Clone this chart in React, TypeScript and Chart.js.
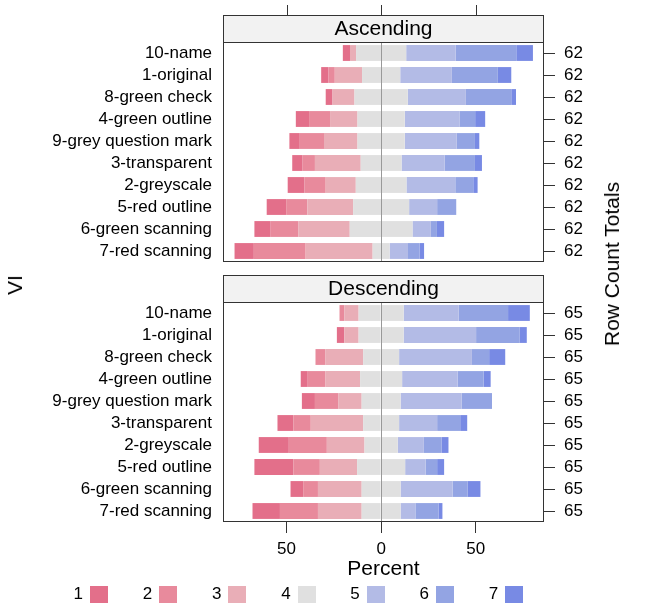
import React, { useEffect, useRef } from 'react';
import { Chart, registerables } from 'chart.js';

Chart.register(...registerables);

const FONT = "'Liberation Sans', Arial, Helvetica, sans-serif";

const rowLabels = [
  '10-name',
  '1-original',
  '8-green check',
  '4-green outline',
  '9-grey question mark',
  '3-transparent',
  '2-greyscale',
  '5-red outline',
  '6-green scanning',
  '7-red scanning',
];
const levelNames = ['1', '2', '3', '4', '5', '6', '7'];
const levelColors = ['#E36F8A', '#E88A9C', '#E9AEB7', '#E0E0E0', '#B3BBE6', '#93A4E3', '#788AE4'];
const xTickValues = [-50, 0, 50];
const xMin = -83.6;
const xMax = 86.1;

const ascTotals = [62, 62, 62, 62, 62, 62, 62, 62, 62, 62];
const descTotals = [65, 65, 65, 65, 65, 65, 65, 65, 65, 65];

// Ascending panel, percent per response level
const ascL1 = [3.8, 3.9, 3.6, 7.0, 5.5, 5.5, 8.9, 10.3, 8.6, 10.2];
const ascL2 = [0, 3.3, 0, 11.1, 12.8, 6.5, 11.2, 11.2, 14.7, 27.4];
const ascL3 = [3.2, 14.4, 11.6, 14.5, 17.7, 24.2, 15.9, 24.2, 27.1, 35.4];
const ascL4 = [26.5, 20.2, 28.2, 25.0, 25.0, 21.6, 26.8, 29.6, 33.2, 9.0];
const ascL5 = [26.1, 27.3, 30.7, 29.1, 27.5, 22.8, 25.8, 14.8, 9.7, 9.7];
const ascL6 = [32.1, 24.3, 24.0, 8.1, 9.6, 16.0, 9.5, 10.1, 3.2, 6.2];
const ascL7 = [8.8, 7.1, 2.5, 5.3, 2.3, 3.7, 2.3, 0, 3.8, 2.3];

// Descending panel, percent per response level
const descL1 = [0, 3.9, 0, 3.7, 6.9, 8.4, 15.9, 20.6, 6.7, 14.5];
const descL2 = [2.5, 0, 5.3, 9.4, 12.3, 9.2, 20.1, 14.0, 7.8, 20.1];
const descL3 = [7.6, 7.6, 19.9, 18.3, 12.4, 27.7, 19.9, 19.7, 23.1, 23.1];
const descL4 = [23.8, 23.8, 19.0, 22.2, 20.6, 19.0, 17.6, 25.4, 20.6, 20.6];
const descL5 = [29.1, 38.3, 38.5, 29.3, 32.3, 20.1, 13.8, 10.8, 27.5, 7.8];
const descL6 = [26.1, 23.1, 9.1, 13.8, 16.0, 12.2, 9.3, 6.1, 8.0, 12.2];
const descL7 = [11.5, 3.7, 8.5, 3.7, 0, 3.7, 3.7, 3.7, 6.7, 2.1];

function makeDatasets(levels: number[][]) {
  const [l1, l2, l3, l4, l5, l6, l7] = levels;
  const ds = (label: string, data: number[], color: string) => ({
    label,
    data,
    backgroundColor: color,
    borderWidth: 0,
    barPercentage: 0.72,
    categoryPercentage: 1,
  });
  return [
    ds('4', l4.map((v) => -v / 2), levelColors[3]),
    ds('3', l3.map((v) => -v), levelColors[2]),
    ds('2', l2.map((v) => -v), levelColors[1]),
    ds('1', l1.map((v) => -v), levelColors[0]),
    ds('4', l4.map((v) => v / 2), levelColors[3]),
    ds('5', l5, levelColors[4]),
    ds('6', l6, levelColors[5]),
    ds('7', l7, levelColors[6]),
  ];
}

const panelDecor = {
  id: 'panelDecor',
  afterDatasetsDraw(chart: any, _args: any, opts: any) {
    const { ctx, chartArea: a, scales } = chart;
    const x = scales.x;
    const stripH = 27;
    ctx.save();
    // zero reference line
    const z = Math.round(x.getPixelForValue(0)) + 0.5;
    ctx.strokeStyle = '#999999';
    ctx.lineWidth = 1;
    ctx.beginPath();
    ctx.moveTo(z, a.top);
    ctx.lineTo(z, a.bottom);
    ctx.stroke();
    // panel frame
    ctx.strokeStyle = '#333333';
    ctx.strokeRect(a.left + 0.5, a.top + 0.5, a.right - a.left - 1, a.bottom - a.top - 1);
    // strip
    const sTop = a.top - stripH;
    ctx.fillStyle = '#F2F2F2';
    ctx.fillRect(a.left, sTop, a.right - a.left, stripH);
    ctx.strokeRect(a.left + 0.5, sTop + 0.5, a.right - a.left - 1, stripH);
    ctx.fillStyle = '#000';
    ctx.font = `21px ${FONT}`;
    ctx.textAlign = 'center';
    ctx.textBaseline = 'middle';
    ctx.fillText(opts.title, (a.left + a.right) / 2, sTop + stripH / 2 + 1);
    // top tick marks
    if (opts.topTicks) {
      ctx.strokeStyle = '#333333';
      for (const v of xTickValues) {
        const px = Math.round(x.getPixelForValue(v)) + 0.5;
        ctx.beginPath();
        ctx.moveTo(px, sTop - 10);
        ctx.lineTo(px, sTop);
        ctx.stroke();
      }
    }
    ctx.restore();
  },
};

type PanelProps = {
  title: string;
  levels: number[][];
  totals: number[];
  top: number;
  height: number;
  padTop: number;
  padBottom: number;
  showXAxis: boolean;
  topTicks: boolean;
};

function Panel(props: PanelProps) {
  const ref = useRef<HTMLCanvasElement | null>(null);
  useEffect(() => {
    if (!ref.current) return;
    const chart = new Chart(ref.current, {
      type: 'bar',
      data: { labels: rowLabels, datasets: makeDatasets(props.levels) as any },
      options: {
        indexAxis: 'y',
        responsive: false,
        animation: false,
        devicePixelRatio: 1,
        layout: { padding: { top: props.padTop, bottom: props.padBottom, left: 0, right: 0 } },
        plugins: {
          legend: { display: false },
          tooltip: { enabled: false },
          panelDecor: { title: props.title, topTicks: props.topTicks },
        } as any,
        scales: {
          x: {
            type: 'linear',
            min: xMin,
            max: xMax,
            stacked: true,
            display: props.showXAxis,
            position: 'bottom',
            afterBuildTicks: (s: any) => {
              s.ticks = xTickValues.map((v) => ({ value: v }));
            },
            afterFit: (s: any) => {
              s.height = props.showXAxis ? 60 : 0;
              s.paddingLeft = 0;
              s.paddingRight = 0;
            },
            grid: { display: true, drawOnChartArea: false, drawTicks: true, tickLength: 11, color: '#333333' },
            border: { display: false },
            ticks: {
              font: { size: 17, family: FONT },
              color: '#000',
              padding: 6,
              callback: (v: any) => String(Math.abs(Number(v))),
            },
            title: { display: true, text: 'Percent', font: { size: 21, family: FONT }, color: '#000', padding: 0 },
          },
          y: {
            type: 'category',
            stacked: true,
            position: 'left',
            offset: true,
            afterFit: (s: any) => {
              s.width = 223;
              s.paddingTop = 0;
              s.paddingBottom = 0;
            },
            grid: { display: false, drawTicks: false },
            border: { display: false },
            ticks: { font: { size: 17, family: FONT }, color: '#000', padding: 11, autoSkip: false },
          },
          y2: {
            type: 'category',
            labels: props.totals.map(String),
            position: 'right',
            offset: true,
            afterFit: (s: any) => {
              s.width = 102;
              s.paddingTop = 0;
              s.paddingBottom = 0;
            },
            grid: { display: true, drawOnChartArea: false, drawTicks: true, tickLength: 11, color: '#333333', offset: false },
            border: { display: false },
            ticks: { font: { size: 17, family: FONT }, color: '#000', padding: 9, autoSkip: false },
          },
        } as any,
      },
      plugins: [panelDecor],
    });
    return () => chart.destroy();
  }, []);
  return (
    <canvas
      ref={ref}
      width={646}
      height={props.height}
      style={{ position: 'absolute', left: 0, top: props.top, width: 646, height: props.height, display: 'block' }}
    />
  );
}

export default function App() {
  const textStyle: React.CSSProperties = { position: 'absolute', fontFamily: FONT, color: '#000', whiteSpace: 'nowrap' };
  return (
    <div style={{ position: 'absolute', left: 0, top: 0, width: 646, height: 606, background: '#fff', overflow: 'hidden' }}>
      <Panel
        title="Ascending"
        levels={[ascL1, ascL2, ascL3, ascL4, ascL5, ascL6, ascL7]}
        totals={ascTotals}
        top={0}
        height={264}
        padTop={42}
        padBottom={2}
        showXAxis={false}
        topTicks={true}
      />
      <Panel
        title="Descending"
        levels={[descL1, descL2, descL3, descL4, descL5, descL6, descL7]}
        totals={descTotals}
        top={264}
        height={342}
        padTop={38}
        padBottom={24}
        showXAxis={true}
        topTicks={false}
      />
      <div style={{ ...textStyle, left: 15, top: 285, fontSize: 21, transform: 'translate(-50%, -50%) rotate(-90deg)' }}>VI</div>
      <div style={{ ...textStyle, left: 612, top: 264, fontSize: 21, transform: 'translate(-50%, -50%) rotate(-90deg)' }}>
        Row Count Totals
      </div>
      {levelNames.map((name, i) => {
        const sq = 90 + i * 69.2;
        return (
          <React.Fragment key={name}>
            <div style={{ ...textStyle, left: sq - 7, top: 594, fontSize: 17, transform: 'translate(-100%, -50%)' }}>{name}</div>
            <div style={{ position: 'absolute', left: sq, top: 586, width: 18, height: 17, background: levelColors[i] }} />
          </React.Fragment>
        );
      })}
    </div>
  );
}
